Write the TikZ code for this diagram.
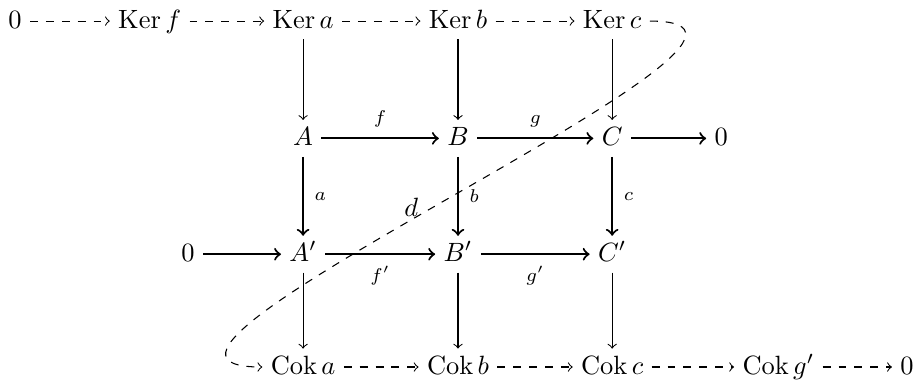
\documentclass[tikz,border=0pt]{standalone}
\usepackage{amsmath,amssymb}
\usepackage{tikz}
\usetikzlibrary{calc}

\begin{document}
\begin{tikzpicture}[
  every node/.style={text height=1.5ex, text depth=0.25ex, inner sep=3pt},
  map/.style={->, thick},
  vmap/.style={->},
  dmap/.style={->, dashed},
  lbl/.style={font=\scriptsize, text height=, text depth=, inner sep=4pt},
]
\useasboundingbox (0,0) rectangle (12.22,-5.04);

% top row: kernels
\node (z1) at (0.20,-0.28) {$0$};
\node (kf) at (1.99,-0.28) {$\operatorname{Ker} f$};
\node (ka) at (4.03,-0.28) {$\operatorname{Ker} a$};
\node (kb) at (6.09,-0.28) {$\operatorname{Ker} b$};
\node (kc) at (8.14,-0.28) {$\operatorname{Ker} c$};

% upper exact row
\node (A)  at (4.03,-1.84) {$A$};
\node (B)  at (6.09,-1.84) {$B$};
\node (C)  at (8.14,-1.84) {$C$};
\node (z2) at (9.59,-1.84) {$0$};

% lower exact row
\node (z3) at (2.50,-3.38) {$0$};
\node (A1) at (4.03,-3.38) {$A'$};
\node (B1) at (6.09,-3.38) {$B'$};
\node (C1) at (8.14,-3.38) {$C'$};

% bottom row: cokernels
\node (ca) at (4.03,-4.88) {$\operatorname{Cok} a$};
\node (cb) at (6.09,-4.88) {$\operatorname{Cok} b$};
\node (cc) at (8.14,-4.88) {$\operatorname{Cok} c$};
\node (cg) at (10.35,-4.88) {$\operatorname{Cok} g'$};
\node (z4) at (12.06,-4.88) {$0$};

\draw[dmap] (z1) -- (kf);
\draw[dmap] (kf) -- (ka);
\draw[dmap] (ka) -- (kb);
\draw[dmap] (kb) -- (kc);

\draw[vmap] (ka) -- (A);
\draw[vmap] (kb) -- (B);
\draw[vmap] (kc) -- (C);

\draw[map] (A) -- node[lbl,above]{$f$} (B);
\draw[map] (B) -- node[lbl,above]{$g$} (C);
\draw[map] (C) -- (z2);

\draw[map] (A) -- node[lbl,right]{$a$} (A1);
\draw[map] (B) -- node[lbl,right]{$b$} (B1);
\draw[map] (C) -- node[lbl,right]{$c$} (C1);

\draw[map] (z3) -- (A1);
\draw[map] (A1) -- node[lbl,below]{$f'$} (B1);
\draw[map] (B1) -- node[lbl,below]{$g'$} (C1);

\draw[vmap] (A1) -- (ca);
\draw[vmap] (B1) -- (cb);
\draw[vmap] (C1) -- (cc);

\draw[dmap] (ca) -- (cb);
\draw[dmap] (cb) -- (cc);
\draw[dmap] (cc) -- (cg);
\draw[dmap] (cg) -- (z4);

% connecting map
\draw[dmap] (kc.east) .. controls +(2.83,0) and +(-2.83,0) .. (ca.west)
  node[pos=0.55, above, text height=, text depth=, inner sep=1pt] {$d$};
\end{tikzpicture}
\end{document}
